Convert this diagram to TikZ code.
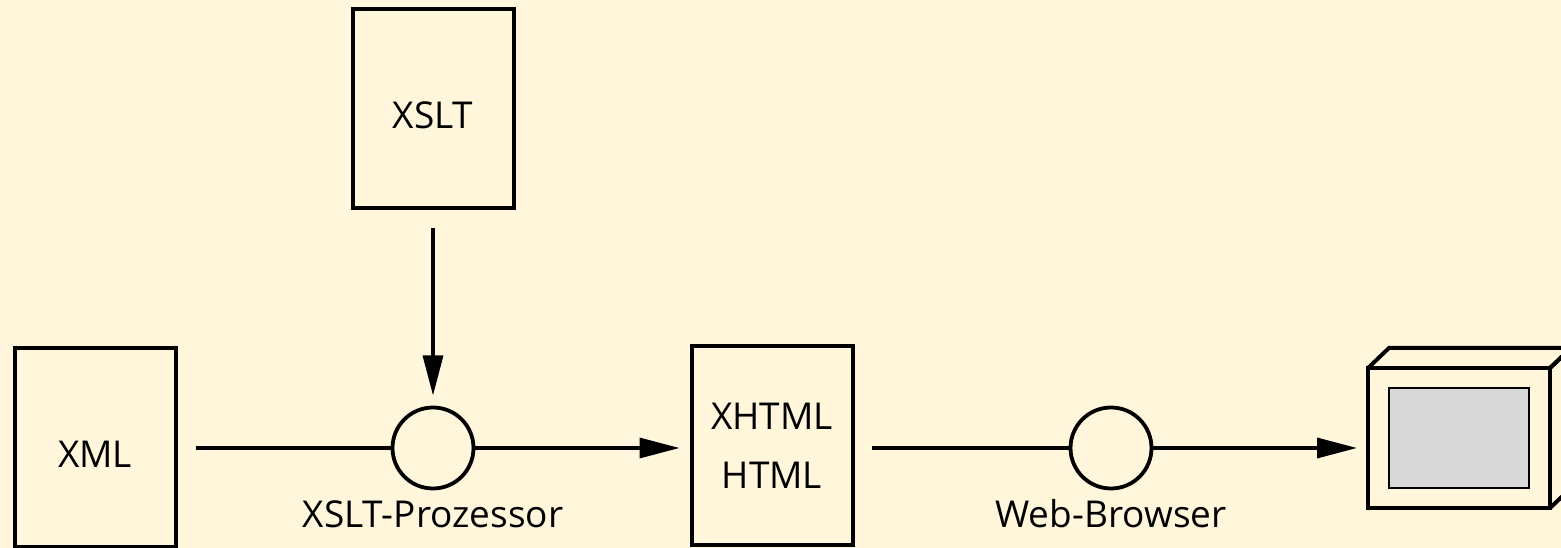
\documentclass[tikz,border=0pt]{standalone}
\usepackage{fontspec}
\setmainfont{Open Sans}
\usetikzlibrary{arrows.meta}
\definecolor{bgc}{RGB}{255,246,220}
\definecolor{scrc}{RGB}{217,217,217}
\begin{document}
\begin{tikzpicture}[x=1pt,y=1pt,
  basebox/.style={draw, line width=4pt, minimum width=161pt, minimum height=199pt,
    inner sep=0pt, outer sep=0pt, font=\fontsize{37}{59.4}\selectfont},
  onebox/.style={basebox, text height=42pt, text depth=2pt},
  twobox/.style={basebox, align=center},
  proc/.style={draw, circle, line width=3.8pt, minimum size=81pt, inner sep=0pt, outer sep=0pt},
  conn/.style={line width=3.4pt},
  arr/.style={conn, -{Triangle[length=40pt,width=20pt]}},
  lbl/.style={anchor=base, font=\fontsize{37}{46}\selectfont, inner sep=0pt},
  monfront/.style={draw, line width=4pt, minimum width=182pt, minimum height=140pt,
    inner sep=0pt, outer sep=0pt},
  screen/.style={draw, line width=2pt, fill=scrc, minimum width=140pt, minimum height=100pt,
    inner sep=0pt, outer sep=0pt}]
\fill[bgc] (0,0) rectangle (1561,548);
\useasboundingbox (0,0) rectangle (1561,548);

\node[onebox] (xml) at (95,100) {XML};
\node[onebox] (xslt) at (433,439) {XSLT};
\node[twobox] (xhtml) at (772,102) {XHTML\\HTML};
\node[proc] (p1) at (433,100) {};
\node[proc] (p2) at (1111,100) {};
\node[lbl] (l1) at ([yshift=-39pt]p1.south) {XSLT-Prozessor};
\node[lbl] (l2) at ([yshift=-39pt]p2.south) {Web-Browser};

\node[monfront] (mon) at (1459,110) {};
\node[screen] (scr) at (mon.center) {};
\draw[line width=4pt, line join=miter] (mon.north west) -- ++(21,20) -- ++(182,0) -- (mon.north east);
\draw[line width=4pt, line join=miter] (mon.north east) -- ++(21,20) -- ++(0,-140) -- (mon.south east);

\draw[conn, shorten <=20pt] (xml) -- (p1);
\draw[arr, shorten <=20pt, shorten >=12pt] (xslt) -- (p1);
\draw[arr, shorten >=12pt] (p1) -- (xhtml.west |- p1);
\draw[conn, shorten <=19pt] (xhtml.east |- p2) -- (p2);
\draw[arr, shorten >=11pt] (p2) -- (p2 -| mon.west);
\end{tikzpicture}
\end{document}
